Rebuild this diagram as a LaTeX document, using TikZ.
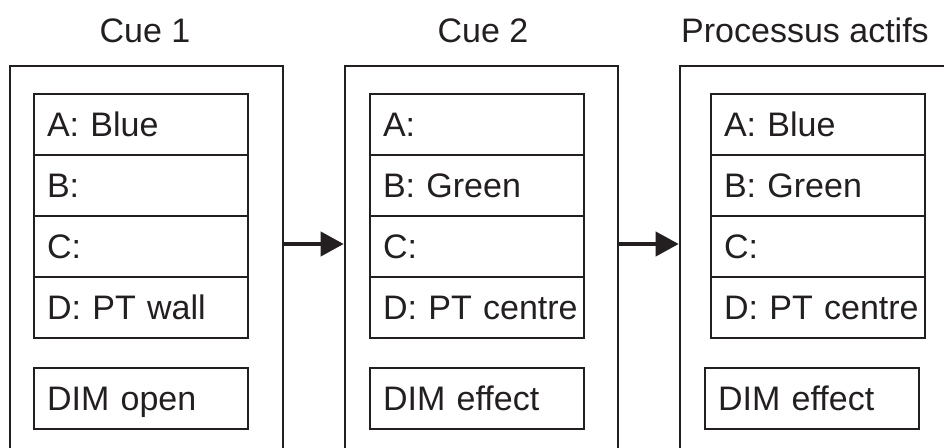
\documentclass[tikz,border=0pt]{standalone}
\usepackage{fontspec}
\setmainfont{Liberation Sans}
\usetikzlibrary{arrows.meta}
\definecolor{ink}{HTML}{231F20}
% keep cell labels on one line
\hyphenpenalty=10000
\exhyphenpenalty=10000
\begin{document}
\begin{tikzpicture}[x=1pt,y=-1pt,
  every node/.style={text=ink},
  label font/.style={font=\fontsize{34}{40}\selectfont},
  title/.style={label font, inner sep=0pt, text height=24.5pt, text depth=0pt},
  framebox/.style={draw=none, minimum width=273pt, minimum height=356pt, inner sep=0pt, outer sep=0pt},
  frameline/.style={draw=ink, line width=2.6pt},
  cell/.style={draw=ink, line width=2.5pt, rectangle, anchor=north west, outer sep=0pt,
    label font, text width=188pt, align=left, inner xsep=13pt, inner ysep=0pt,
    minimum height=61pt, text height=24.5pt, text depth=0pt},
  link/.style={draw=ink, line width=4pt, -{Triangle[length=23pt 0 0, width=24pt 0 0]}, shorten >=1.3pt}
]
\useasboundingbox (0,0) rectangle (944,447);
\clip (0,0) rectangle (944,447);

% outer frames (open at the bottom)
\node[framebox] (f1) at (146.5,244) {};
\node[framebox] (f2) at (481.5,244) {};
\node[framebox] (f3) at (816.5,244) {};
\foreach \f in {f1,f2,f3}
  \draw[frameline] (\f.north west |- 0,470) -- (\f.north west) -- (\f.north east) -- (\f.north east |- 0,470);

% titles
\node[title] (t1) at (145,30.5) {Cue 1};
\node[title] (t2) at (483,30.5) {Cue 2};
\node[title] (t3) at (805,30.5) {Processus actifs};

% panel 1
\node[cell] (p1a) at (34,94) {A: Blue};
\node[cell] (p1b) at (p1a.south west) {B:};
\node[cell] (p1c) at (p1b.south west) {C:};
\node[cell] (p1d) at (p1c.south west) {D: PT wall};
\node[cell] (p1e) at (34,368) {DIM open};

% panel 2
\node[cell] (p2a) at (370,94) {A:};
\node[cell] (p2b) at (p2a.south west) {B: Green};
\node[cell] (p2c) at (p2b.south west) {C:};
\node[cell] (p2d) at (p2c.south west) {D:~PT~centre};
\node[cell] (p2e) at (370,368) {DIM effect};

% panel 3
\node[cell] (p3a) at (711,94) {A: Blue};
\node[cell] (p3b) at (p3a.south west) {B: Green};
\node[cell] (p3c) at (p3b.south west) {C:};
\node[cell] (p3d) at (p3c.south west) {D:~PT~centre};
\node[cell] (p3e) at (705,368) {DIM effect};

% transitions between panels
\draw[link] (f1.east) -- (f2.west);
\draw[link] (f2.east) -- (f3.west);
\end{tikzpicture}
\end{document}
